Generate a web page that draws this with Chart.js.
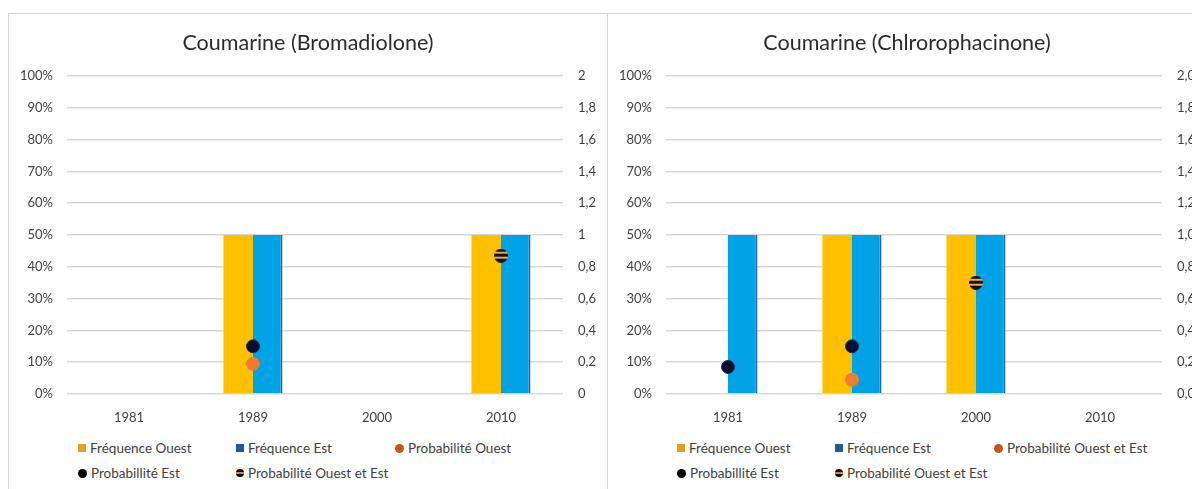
<!DOCTYPE html>
<html>
<head>
<meta charset="utf-8">
<title>Coumarine</title>
<script src="https://cdn.jsdelivr.net/npm/chart.js@4/dist/chart.umd.min.js"></script>
<style>
body { margin: 0; width: 1192px; height: 489px; overflow: hidden; background: #fff; font-family: Lato, sans-serif; }
.panel { position: absolute; top: 13px; width: 600px; height: 520px; border: 1px solid #d4d4d4; box-sizing: border-box; }
.panel canvas { position: absolute; left: 0; top: 0; }
.item { position: absolute; white-space: nowrap; display: flex; align-items: center; height: 16px; font-size: 13.5px; color: #404040; }
.mk { width: 8px; height: 8px; margin-right: 4px; flex: none; }
</style>
</head>
<body>
<div class="panel" style="left:8px"><canvas id="chartA" width="598" height="420"></canvas><div id="legendA"></div></div>
<div class="panel" style="left:607px"><canvas id="chartB" width="598" height="420"></canvas><div id="legendB"></div></div>
<script>
// data
const categories = ['1981', '1989', '2000', '2010'];
const leftTicks = ['0%', '10%', '20%', '30%', '40%', '50%', '60%', '70%', '80%', '90%', '100%'];
const rightTicksA = ['0', '0,2', '0,4', '0,6', '0,8', '1', '1,2', '1,4', '1,6', '1,8', '2'];
const rightTicksB = ['0,0', '0,2', '0,4', '0,6', '0,8', '1,0', '1,2', '1,4', '1,6', '1,8', '2,0'];

// Bromadiolone
const freqOuestA = [0, 50, 0, 50];
const freqEstA = [0, 50, 0, 50];
const probOuestA = [null, 0.19, null, null];
const probEstA = [null, 0.3, null, null];
const probOuestEstA = [null, null, null, 0.87];
const labelsA = ['Fréquence Ouest', 'Fréquence Est', 'Probabilité Ouest', 'Probabillité Est', 'Probabilité Ouest et Est'];

// Chlrorophacinone
const freqOuestB = [0, 50, 50, 0];
const freqEstB = [50, 50, 50, 0];
const probOuestB = [null, 0.09, null, null];
const probEstB = [0.17, 0.3, null, null];
const probOuestEstB = [null, null, 0.7, null];
const labelsB = ['Fréquence Ouest', 'Fréquence Est', 'Probabilité Ouest et Est', 'Probabillité Est', 'Probabilité Ouest et Est'];

// striped marker (orange with black bands)
function stripedDot(size) {
    const c = document.createElement('canvas');
    c.width = size; c.height = size;
    const g = c.getContext('2d');
    g.beginPath();
    g.arc(size / 2, size / 2, size / 2, 0, Math.PI * 2);
    g.clip();
    g.fillStyle = '#f2a35c';
    g.fillRect(0, 0, size, size);
    g.fillStyle = '#111';
    g.fillRect(0, 0, size, 3);
    g.fillRect(0, 5, size, 3);
    g.fillRect(0, 10, size, 4);
    return c;
}
const stripe = stripedDot(14);

const legendMarks = [
    'background:#e6a11b',
    'background:#1f5c9c',
    'background:#c4561c;border-radius:50%;width:9px;height:9px',
    'background:#000;border-radius:50%;width:9px;height:9px',
    'background:linear-gradient(#000 0 35%, #e87a2c 35% 65%, #000 65%);border-radius:50%;width:8px;height:8px'
];
const legendPos = [[69, 426], [227, 426], [386, 426], [69, 451], [227, 451]];

function makeLegend(id, labels) {
    const box = document.getElementById(id);
    labels.forEach((txt, i) => {
        const d = document.createElement('div');
        d.className = 'item';
        d.style.left = legendPos[i][0] + 'px';
        d.style.top = legendPos[i][1] + 'px';
        d.innerHTML = '<span class="mk" style="' + legendMarks[i] + '"></span>' + txt;
        box.appendChild(d);
    });
}

function makeChart(id, title, labels, fo, fe, po, pe, poe, rightTicks) {
    const tickFont = { family: 'Lato', size: 13 };
    return new Chart(document.getElementById(id), {
        type: 'bar',
        data: {
            labels: categories,
            datasets: [
                { label: labels[0], data: fo, backgroundColor: '#ffc000', borderWidth: 0, order: 2,
                  categoryPercentage: 0.476, barPercentage: 1 },
                { label: labels[1], data: fe, backgroundColor: '#00a2e6', borderColor: '#1f64a8',
                  borderWidth: { left: 0, right: 2, top: 0, bottom: 0 }, order: 2,
                  categoryPercentage: 0.476, barPercentage: 1 },
                { type: 'line', label: labels[2], data: po, yAxisID: 'y2', showLine: false, order: 1,
                  pointRadius: 6.5, backgroundColor: '#ed7d31', borderColor: '#ed7d31' },
                { type: 'line', label: labels[3], data: pe, yAxisID: 'y2', showLine: false, order: 1,
                  pointRadius: 6.5, backgroundColor: '#0c0e30', borderColor: '#2a2a48', borderWidth: 1 },
                { type: 'line', label: labels[4], data: poe, yAxisID: 'y2', showLine: false, order: 1,
                  pointStyle: stripe, pointRadius: 7 }
            ]
        },
        options: {
            responsive: false,
            animation: false,
            layout: { padding: 0 },
            plugins: {
                legend: { display: false },
                tooltip: { enabled: false },
                title: {
                    display: true, text: title, color: '#2b2b2b',
                    font: { family: 'Lato', size: 21.5, weight: 'normal' },
                    padding: { top: 16, bottom: 20.2 }
                }
            },
            scales: {
                x: {
                    grid: { display: false }, border: { display: false },
                    ticks: { color: '#404040', font: tickFont, padding: 8 },
                    afterFit: (a) => { a.height = 40; }
                },
                y: {
                    position: 'left', min: 0, max: 100,
                    grid: { color: '#d9d9d9', lineWidth: 1.5, drawTicks: false }, border: { display: false },
                    ticks: { stepSize: 10, color: '#404040', font: tickFont, padding: 14,
                             callback: (v, i) => leftTicks[i] },
                    afterFit: (a) => { a.width = 58; }
                },
                y2: {
                    position: 'right', min: 0, max: 2,
                    grid: { display: false, drawTicks: false }, border: { display: false },
                    ticks: { stepSize: 0.2, color: '#404040', font: tickFont, padding: 15,
                             callback: (v, i) => rightTicks[i] },
                    afterFit: (a) => { a.width = 44; }
                }
            }
        }
    });
}

makeChart('chartA', 'Coumarine (Bromadiolone)', labelsA, freqOuestA, freqEstA, probOuestA, probEstA, probOuestEstA, rightTicksA);
makeChart('chartB', 'Coumarine (Chlrorophacinone)', labelsB, freqOuestB, freqEstB, probOuestB, probEstB, probOuestEstB, rightTicksB);
makeLegend('legendA', labelsA);
makeLegend('legendB', labelsB);
</script>
</body>
</html>
